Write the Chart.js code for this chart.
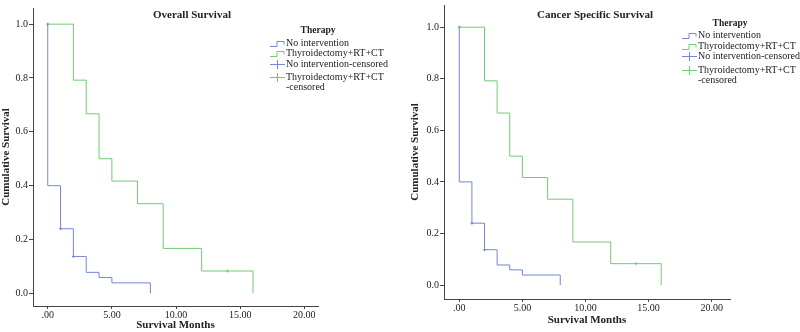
<!DOCTYPE html>
<html>
<head>
<meta charset="utf-8">
<script src="https://cdn.jsdelivr.net/npm/chart.js@4.4.1/dist/chart.umd.min.js"></script>
<style>
  html, body { margin: 0; padding: 0; background: #fff; }
  #wrap { position: relative; width: 800px; height: 332px; }
  .pane { position: absolute; top: 0; width: 400px; height: 332px; }
</style>
</head>
<body>
<div id="wrap">
  <div class="pane" style="left:0"><canvas id="osChart" width="400" height="332"></canvas></div>
  <div class="pane" style="left:400px"><canvas id="cssChart" width="400" height="332"></canvas></div>
</div>
<script>
// Kaplan-Meier step points (months, cumulative survival)
const noInterventionMonths = [0, 0, 1, 2, 3, 4, 5, 8];
const noInterventionSurvival = [1.0, 0.40, 0.24, 0.137, 0.078, 0.059, 0.039, 0.0];
const surgeryMonths = [0, 2, 3, 4, 5, 7, 9, 12, 16];
const surgerySurvival = [1.0, 0.792, 0.667, 0.5, 0.417, 0.333, 0.167, 0.083, 0.0];

// censored marks
const noInterventionCensoredMonths = [0, 1, 2];
const noInterventionCensoredSurvival = [1.0, 0.24, 0.137];
const surgeryCensoredMonths = [14];
const surgeryCensoredSurvival = [0.083];

// axis ticks
const xTickValues = [0, 5, 10, 15, 20];
const xTickLabels = [".00", "5.00", "10.00", "15.00", "20.00"];
const yTickValues = [0, 0.2, 0.4, 0.6, 0.8, 1.0];
const yTickLabels = ["0.0", "0.2", "0.4", "0.6", "0.8", "1.0"];

const legendTitle = "Therapy";
const legendLabels = ["No intervention", "Thyroidectomy+RT+CT", "No intervention-censored", ["Thyroidectomy+RT+CT", "-censored"]];

const BLUE = "rgb(116,134,218)";
const GREEN = "rgb(112,204,112)";
const INK = "#222";
const AXIS = "#444";
const FONT = "'Liberation Serif', 'Times New Roman', serif";

function pts(xs, ys) {
    return xs.map((x, i) => ({ x: x, y: ys[i] }));
}

// title + Therapy legend drawn inside the plot, like the SPSS output
const kmDecor = {
    id: "kmDecor",
    afterDraw(chart, args, opts) {
        const ctx = chart.ctx;
        ctx.save();
        ctx.fillStyle = INK;
        ctx.textBaseline = "middle";

        ctx.font = "bold 11px " + FONT;
        ctx.textAlign = "center";
        ctx.fillText(opts.title, opts.titleX, opts.titleY);

        ctx.font = "bold 9.5px " + FONT;
        ctx.fillText(legendTitle, opts.legX, opts.legY);

        ctx.font = "10px " + FONT;
        ctx.textAlign = "left";
        ctx.lineWidth = 1;
        const colors = [BLUE, GREEN, BLUE, GREEN];
        legendLabels.forEach((lab, i) => {
            const y = opts.rows[i];
            const x0 = opts.iconX;
            ctx.strokeStyle = colors[i];
            ctx.beginPath();
            if (i < 2) {
                ctx.moveTo(x0, y + 3.5);
                ctx.lineTo(x0 + 7, y + 3.5);
                ctx.lineTo(x0 + 7, y - 1.5);
                ctx.lineTo(x0 + 14, y - 1.5);
                ctx.lineTo(x0 + 14, y + 1.5);
            } else {
                ctx.moveTo(x0, y + 0.5);
                ctx.lineTo(x0 + 15, y + 0.5);
                ctx.moveTo(x0 + 7.5, y - 4);
                ctx.lineTo(x0 + 7.5, y + 5);
            }
            ctx.stroke();
            if (Array.isArray(lab)) {
                ctx.fillText(lab[0], opts.textX, y);
                ctx.fillText(lab[1], opts.textX, opts.rows[4]);
            } else {
                ctx.fillText(lab, opts.textX, y);
            }
        });
        ctx.restore();
    }
};

function makeChart(id, g) {
    const ctx = document.getElementById(id).getContext("2d");
    return new Chart(ctx, {
        type: "line",
        data: {
            datasets: [
                { data: pts(noInterventionMonths, noInterventionSurvival), borderColor: BLUE, borderWidth: 1, stepped: true, pointRadius: 0, fill: false },
                { data: pts(surgeryMonths, surgerySurvival), borderColor: GREEN, borderWidth: 1, stepped: true, pointRadius: 0, fill: false },
                { data: pts(noInterventionCensoredMonths, noInterventionCensoredSurvival), showLine: false, pointStyle: "cross", pointRadius: 1.5, borderColor: BLUE, borderWidth: 1 },
                { data: pts(surgeryCensoredMonths, surgeryCensoredSurvival), showLine: false, pointStyle: "cross", pointRadius: 1.5, borderColor: GREEN, borderWidth: 1 }
            ]
        },
        options: {
            responsive: false,
            animation: false,
            devicePixelRatio: 1,
            layout: { padding: { top: g.top, right: g.right, left: 0, bottom: 0 } },
            plugins: {
                legend: { display: false },
                tooltip: { enabled: false },
                kmDecor: g.decor
            },
            scales: {
                x: {
                    type: "linear",
                    min: g.xMin,
                    max: g.xMax,
                    afterBuildTicks: (s) => { s.ticks = xTickValues.map(v => ({ value: v })); },
                    afterFit: (s) => { s.height = g.xHeight; s.paddingLeft = 0; s.paddingRight = 0; },
                    ticks: {
                        color: INK,
                        font: { family: FONT, size: 10 },
                        padding: 0,
                        maxRotation: 0,
                        callback: (v) => xTickLabels[xTickValues.indexOf(v)]
                    },
                    grid: { drawOnChartArea: false, drawTicks: true, tickLength: 3, color: AXIS },
                    border: { display: true, color: AXIS, width: 1 },
                    title: { display: true, text: "Survival Months", color: INK, font: { family: FONT, size: 11, weight: "bold" }, padding: { top: 0, bottom: g.xTitlePad } }
                },
                y: {
                    type: "linear",
                    min: g.yMin,
                    max: g.yMax,
                    afterBuildTicks: (s) => { s.ticks = yTickValues.map(v => ({ value: v })); },
                    afterFit: (s) => { s.width = g.yWidth; s.paddingTop = 0; s.paddingBottom = 0; },
                    ticks: {
                        color: INK,
                        font: { family: FONT, size: 10 },
                        padding: 1,
                        callback: (v) => yTickLabels[yTickValues.findIndex(t => Math.abs(t - v) < 1e-9)]
                    },
                    grid: { drawOnChartArea: false, drawTicks: true, tickLength: 4, color: AXIS },
                    border: { display: true, color: AXIS, width: 1 },
                    title: { display: true, text: "Cumulative Survival", color: INK, font: { family: FONT, size: 11, weight: "bold" }, padding: { top: g.yTitlePad, bottom: 0 } }
                }
            }
        },
        plugins: [kmDecor]
    });
}

makeChart("osChart", {
    top: 8, right: 82, xHeight: 26, yWidth: 33,
    xMin: -1.15, xMax: 21.07, yMin: -0.047, yMax: 1.06,
    xTitlePad: 0, yTitlePad: 0,
    decor: {
        title: "Overall Survival", titleX: 192, titleY: 15,
        legX: 318, legY: 31,
        iconX: 270, textX: 286,
        rows: [43, 53, 64, 77, 87]
    }
});

makeChart("cssChart", {
    top: 2, right: 70, xHeight: 33, yWidth: 44,
    xMin: -1.21, xMax: 21.45, yMin: -0.054, yMax: 1.086,
    xTitlePad: 5.5, yTitlePad: 8.4,
    decor: {
        title: "Cancer Specific Survival", titleX: 195, titleY: 15,
        legX: 330, legY: 24,
        iconX: 282, textX: 298,
        rows: [35, 46, 56, 70, 80]
    }
});
</script>
</body>
</html>
